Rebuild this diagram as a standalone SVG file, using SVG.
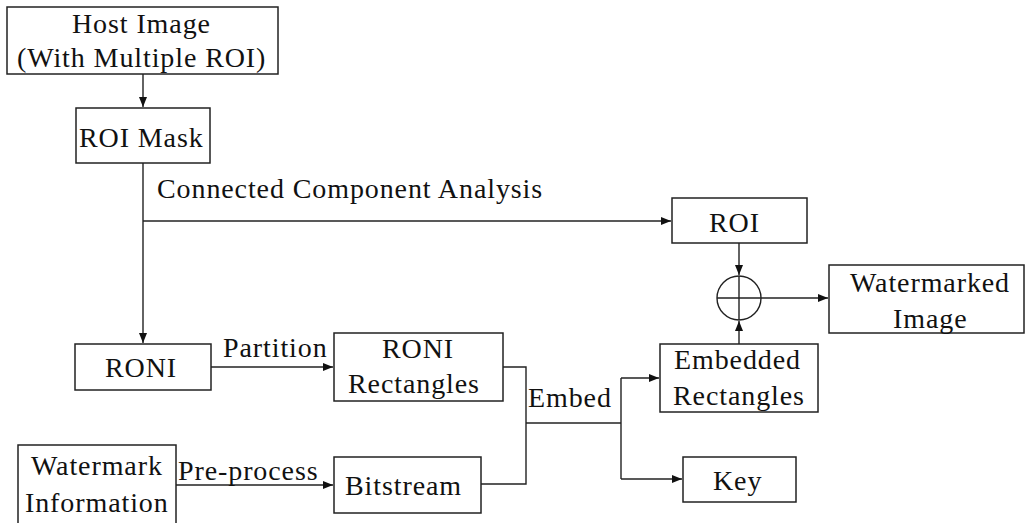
<svg xmlns="http://www.w3.org/2000/svg" width="1026" height="523" viewBox="0 0 1026 523">
<style>
.box{fill:#fff;stroke:#222;stroke-width:1.5}
.ln{fill:none;stroke:#222;stroke-width:1.4}
.arr{marker-end:url(#ah)}
.t{font-family:'Liberation Serif','Times New Roman',serif;font-size:28px;letter-spacing:0.9px;fill:#111}
</style>
<defs>
<marker id="ah" markerUnits="userSpaceOnUse" markerWidth="11" markerHeight="9" refX="10" refY="4" orient="auto">
<path d="M0,0 L10,4 L0,8 z" fill="#111"/>
</marker>
</defs>
<rect width="1026" height="523" fill="#fff"/>
<g id="connectors">
<path class="ln arr" d="M143,74 V107"/>
<path class="ln arr" d="M143,163 V343"/>
<path class="ln arr" d="M143,221 H671"/>
<path class="ln arr" d="M739,243 V275"/>
<path class="ln arr" d="M739,412 V321"/>
<path class="ln arr" d="M761,298 H828"/>
<path class="ln arr" d="M211,367 H333"/>
<path class="ln arr" d="M176,485 H333"/>
<path class="ln" d="M503,367 H526 V484 H481"/>
<path class="ln" d="M526,423 H621"/>
<path class="ln" d="M621,378 V479"/>
<path class="ln arr" d="M621,378 H659"/>
<path class="ln arr" d="M621,479 H682"/>
<text class="t" font-family="Liberation Serif" x="157" y="198">Connected Component Analysis</text>
<text class="t" font-family="Liberation Serif" x="223" y="357">Partition</text>
<text class="t" font-family="Liberation Serif" x="178" y="480">Pre-process</text>
<text class="t" font-family="Liberation Serif" x="528" y="407">Embed</text>
</g>
<g id="host">
<rect class="box" x="7" y="7" width="271" height="67"/>
<text class="t" font-family="Liberation Serif" x="72" y="33">Host Image</text>
<text class="t" font-family="Liberation Serif" x="17" y="67">(With Multiple ROI)</text>
</g>
<g id="roimask">
<rect class="box" x="76" y="108" width="134" height="55"/>
<text class="t" font-family="Liberation Serif" x="79" y="147">ROI Mask</text>
</g>
<g id="roi">
<rect class="box" x="672" y="198" width="135" height="45"/>
<text class="t" font-family="Liberation Serif" x="709" y="232">ROI</text>
</g>
<g id="xor">
<circle cx="739" cy="298" r="22" fill="#fff" stroke="#222" stroke-width="1.4"/>
<path class="ln" d="M717,298 H761 M739,276 V320"/>
</g>
<g id="watermarked">
<rect class="box" x="829" y="265" width="195" height="68"/>
<text class="t" font-family="Liberation Serif" x="850" y="292">Watermarked</text>
<text class="t" font-family="Liberation Serif" x="893" y="328">Image</text>
</g>
<g id="roni">
<rect class="box" x="75" y="344" width="136" height="46"/>
<text class="t" font-family="Liberation Serif" x="105" y="377">RONI</text>
</g>
<g id="ronirect">
<rect class="box" x="334" y="333" width="169" height="68"/>
<text class="t" font-family="Liberation Serif" x="382" y="358">RONI</text>
<text class="t" font-family="Liberation Serif" x="348" y="393">Rectangles</text>
</g>
<g id="embedded">
<rect class="box" x="660" y="344" width="158" height="68"/>
<text class="t" font-family="Liberation Serif" x="674" y="369">Embedded</text>
<text class="t" font-family="Liberation Serif" x="673" y="405">Rectangles</text>
</g>
<g id="wminfo">
<rect class="box" x="18" y="445" width="158" height="85"/>
<text class="t" font-family="Liberation Serif" x="31" y="475">Watermark</text>
<text class="t" font-family="Liberation Serif" x="25" y="512">Information</text>
</g>
<g id="bitstream">
<rect class="box" x="334" y="457" width="147" height="56"/>
<text class="t" font-family="Liberation Serif" x="345" y="495">Bitstream</text>
</g>
<g id="key">
<rect class="box" x="683" y="457" width="113" height="45"/>
<text class="t" font-family="Liberation Serif" x="713" y="490">Key</text>
</g>
</svg>
